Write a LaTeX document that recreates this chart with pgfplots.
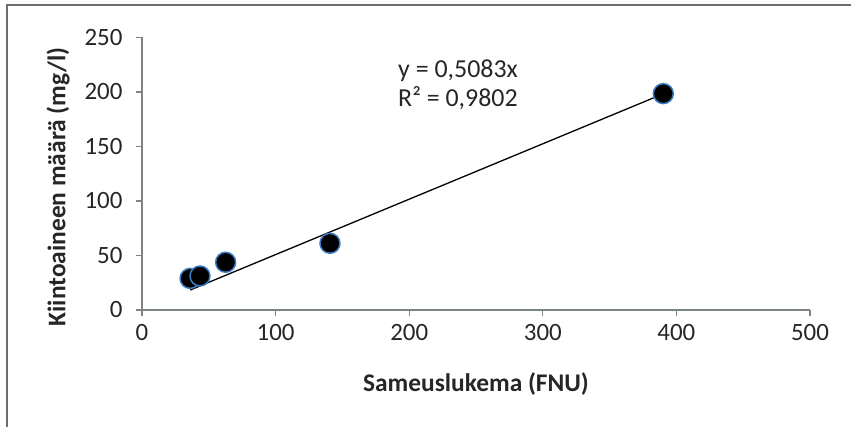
\documentclass[border=0pt]{standalone}
\usepackage{pgfplots}
\pgfplotsset{compat=1.18}
\usepackage{fontspec}
\setmainfont{Carlito}
\definecolor{axgray}{RGB}{125,132,136}
\definecolor{framegray}{RGB}{110,110,110}
\definecolor{mkblue}{RGB}{60,125,195}
\begin{document}
\begin{tikzpicture}[x=1bp,y=1bp]
\path[use as bounding box] (0,0) rectangle (851,426);
\draw[line width=1.2bp, framegray] (7,-5) -- (7,421) -- (860,421);
\begin{axis}[at={(142bp,116bp)}, anchor=south west, scale only axis,
  width=668bp, height=272.5bp,
  xmin=0, xmax=500, ymin=0, ymax=250,
  axis lines=left, axis line style={-, axgray, line width=1.6bp},
  xtick={0,100,...,500}, ytick={0,50,...,250},
  tick align=outside, major tick length=6bp,
  tick style={axgray, line width=1.2bp},
  ticklabel style={font=\fontsize{25}{30}\selectfont, text=black!85},
  xticklabel style={anchor=center, yshift=-16bp},
  yticklabel style={anchor=east, xshift=-10bp},
  /pgf/number format/assume math mode=true,
  clip=false]
\addplot[only marks, mark=*, mark size=10bp, mark options={fill=black, draw=mkblue, line width=1.5bp}]
  coordinates {(36,29) (43.4,31.2) (62.6,43.8) (140.7,61.2) (390.2,198.5)};
\addplot[black, line width=1.3bp] coordinates {(36,18.30) (390.2,198.34)};
\end{axis}
\node[font=\bfseries\fontsize{25.5}{30}\selectfont, text=black!85] at (476,42) {Sameuslukema (FNU)};
\node[font=\bfseries\fontsize{25.5}{30}\selectfont, text=black!85, rotate=90] at (58,239) {Kiintoaineen määrä (mg/l)};
\node[anchor=base west, font=\fontsize{26}{30}\selectfont, text=black!85, inner sep=0pt] at (398,349) {y = 0,5083x};
\node[anchor=base west, font=\fontsize{26}{30}\selectfont, text=black!85, inner sep=0pt] at (398,320) {R² = 0,9802};
\end{tikzpicture}
\end{document}
